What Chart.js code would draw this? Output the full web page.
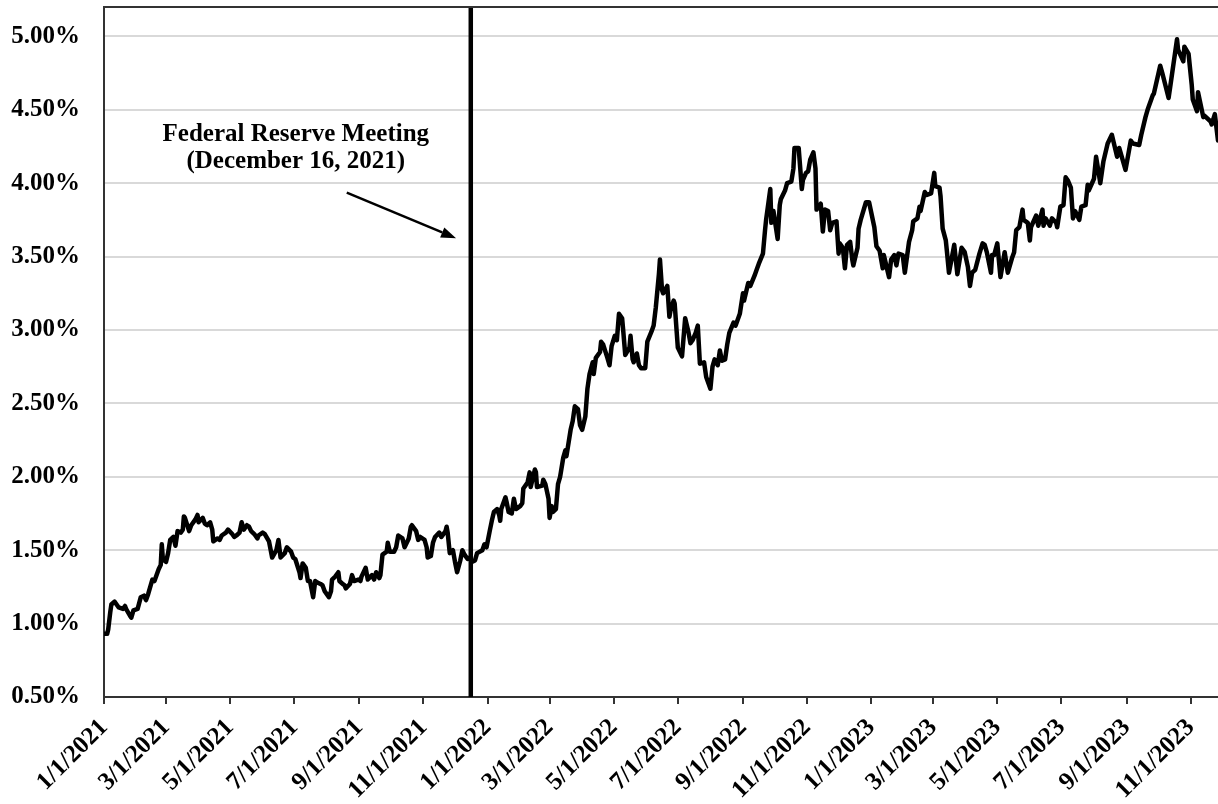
<!DOCTYPE html>
<html>
<head>
<meta charset="utf-8">
<script src="https://cdn.jsdelivr.net/npm/chart.js@4.4.1/dist/chart.umd.min.js"></script>
<style>
  html, body { margin: 0; padding: 0; background: #ffffff; }
  #wrap { width: 1218px; height: 804px; }
</style>
</head>
<body>
<div id="wrap"><canvas id="chart" width="1218" height="804"></canvas></div>
<script>
const X_TICK_LABELS = [
  '1/1/2021', '3/1/2021', '5/1/2021', '7/1/2021', '9/1/2021', '11/1/2021',
  '1/1/2022', '3/1/2022', '5/1/2022', '7/1/2022', '9/1/2022', '11/1/2022',
  '1/1/2023', '3/1/2023', '5/1/2023', '7/1/2023', '9/1/2023', '11/1/2023'
];
const Y_TICKS = [0.5, 1.0, 1.5, 2.0, 2.5, 3.0, 3.5, 4.0, 4.5, 5.0];
const Y_MIN = 0.5;
const Y_MAX = 5.2;
const X_START = '2021-01-01';
const X_END = '2023-11-27';

const MEETING_DATE = '2021-12-16';
const NOTE_LINES = ['Federal Reserve Meeting', '(December 16, 2021)'];

// yields (%), dates as MM-DD per year
const dates2021 = [
  '01-01','01-04','01-05','01-07','01-08','01-11','01-13','01-15','01-19','01-21',
  '01-22','01-26','01-27','01-29','02-02','02-05','02-08','02-10','02-12','02-16',
  '02-18','02-22','02-24','02-25','02-26','03-01','03-03','03-05','03-08','03-10',
  '03-12','03-15','03-17','03-18','03-19','03-23','03-25','03-29','03-31','04-01',
  '04-05','04-07','04-09','04-12','04-14','04-15','04-19','04-21','04-23','04-27',
  '04-29','05-03','05-05','05-07','05-10','05-12','05-14','05-17','05-19','05-21',
  '05-24','05-27','05-28','06-01','06-03','06-07','06-10','06-14','06-16','06-18',
  '06-22','06-24','06-28','06-30','07-02','07-06','07-07','07-09','07-12','07-14',
  '07-16','07-19','07-21','07-23','07-26','07-28','07-30','08-03','08-05','08-06',
  '08-09','08-12','08-13','08-16','08-18','08-19','08-23','08-25','08-27','08-31',
  '09-02','09-03','09-07','09-09','09-13','09-15','09-17','09-20','09-21','09-23',
  '09-27','09-28','09-30','10-04','10-06','10-08','10-12','10-14','10-18','10-20',
  '10-21','10-25','10-27','10-29','11-02','11-04','11-05','11-08','11-10','11-12',
  '11-16','11-18','11-22','11-23','11-24','11-26','11-29','12-01','12-03','12-06',
  '12-08','12-10','12-13','12-15','12-17','12-20','12-22','12-27','12-29','12-31'
];
const yields2021 = [
  0.93,0.93,0.96,1.08,1.13,1.15,1.13,1.11,1.10,1.12,
  1.10,1.05,1.04,1.09,1.10,1.18,1.19,1.16,1.20,1.30,
  1.29,1.37,1.40,1.54,1.44,1.42,1.48,1.57,1.59,1.53,
  1.63,1.62,1.64,1.73,1.72,1.63,1.67,1.71,1.74,1.69,
  1.72,1.68,1.67,1.69,1.64,1.56,1.58,1.57,1.60,1.62,
  1.64,1.61,1.59,1.60,1.62,1.69,1.64,1.67,1.66,1.63,
  1.61,1.58,1.60,1.62,1.61,1.56,1.45,1.50,1.57,1.45,
  1.48,1.52,1.49,1.45,1.44,1.35,1.31,1.41,1.38,1.29,
  1.29,1.18,1.29,1.28,1.27,1.26,1.22,1.18,1.22,1.30,
  1.32,1.35,1.29,1.27,1.26,1.24,1.27,1.33,1.29,1.30,
  1.29,1.32,1.38,1.30,1.33,1.30,1.35,1.31,1.33,1.47,
  1.49,1.55,1.49,1.49,1.52,1.60,1.58,1.52,1.58,1.66,
  1.67,1.63,1.57,1.59,1.57,1.52,1.45,1.46,1.55,1.59,
  1.62,1.59,1.63,1.66,1.62,1.48,1.50,1.42,1.35,1.43,
  1.50,1.47,1.44,1.45,1.42,1.43,1.48,1.50,1.54,1.52
];

const dates2022 = [
  '01-03','01-05','01-07','01-10','01-12','01-13','01-14','01-18','01-19','01-21',
  '01-24','01-26','01-28','02-01','02-03','02-04','02-08','02-10','02-11','02-15',
  '02-16','02-17','02-22','02-23','02-25','02-28','03-01','03-03','03-04','03-07',
  '03-09','03-11','03-14','03-16','03-17','03-21','03-23','03-25','03-28','03-30',
  '04-01','04-04','04-06','04-08','04-11','04-12','04-14','04-18','04-19','04-21',
  '04-25','04-27','04-29','05-02','05-04','05-06','05-09','05-10','05-12','05-16',
  '05-17','05-19','05-20','05-23','05-25','05-27','05-31','06-02','06-06','06-08',
  '06-10','06-13','06-14','06-16','06-17','06-21','06-23','06-24','06-27','06-28',
  '06-30','07-01','07-05','07-08','07-11','07-13','07-15','07-18','07-20','07-21',
  '07-22','07-26','07-28','08-01','08-03','08-05','08-08','08-10','08-12','08-15',
  '08-17','08-19','08-23','08-25','08-29','09-01','09-02','09-06','09-08','09-12',
  '09-14','09-16','09-20','09-22','09-23','09-27','09-28','09-30','10-04','10-06',
  '10-07','10-11','10-13','10-17','10-19','10-20','10-24','10-27','10-28','10-31',
  '11-02','11-04','11-07','11-09','11-10','11-14','11-16','11-18','11-21','11-23',
  '11-25','11-29','12-01','12-02','12-05','12-07','12-09','12-12','12-14','12-15',
  '12-19','12-20','12-22','12-27','12-30'
];
const yields2022 = [
  1.63,1.70,1.76,1.78,1.74,1.70,1.78,1.86,1.83,1.76,
  1.75,1.85,1.78,1.80,1.82,1.92,1.96,2.03,1.93,2.05,
  2.03,1.93,1.94,1.98,1.95,1.85,1.72,1.80,1.76,1.78,
  1.95,2.00,2.13,2.18,2.14,2.32,2.38,2.48,2.46,2.35,
  2.32,2.41,2.60,2.70,2.78,2.70,2.81,2.85,2.92,2.90,
  2.81,2.76,2.89,2.96,2.93,3.11,3.08,3.00,2.83,2.88,
  2.96,2.80,2.78,2.84,2.76,2.74,2.74,2.92,2.99,3.03,
  3.15,3.38,3.48,3.27,3.25,3.30,3.09,3.13,3.20,3.18,
  2.98,2.88,2.82,3.08,2.99,2.91,2.93,2.98,3.03,2.90,
  2.77,2.78,2.68,2.60,2.75,2.80,2.76,2.86,2.79,2.80,
  2.90,2.98,3.05,3.03,3.11,3.25,3.20,3.32,3.30,3.37,
  3.41,3.45,3.52,3.68,3.75,3.96,3.73,3.81,3.62,3.85,
  3.89,3.95,4.00,4.01,4.10,4.24,4.24,3.96,4.02,4.07,
  4.08,4.16,4.21,4.10,3.82,3.86,3.67,3.82,3.81,3.68,
  3.73,3.74,3.52,3.59,3.56,3.42,3.58,3.60,3.48,3.44,
  3.56,3.69,3.75,3.87,3.87
];

const dates2023 = [
  '01-04','01-06','01-09','01-12','01-13','01-18','01-20','01-23','01-25','01-27',
  '01-31','02-02','02-06','02-09','02-10','02-14','02-16','02-17','02-21','02-23',
  '02-27','03-02','03-03','03-07','03-08','03-10','03-13','03-14','03-16','03-20',
  '03-21','03-24','03-28','03-31','04-03','04-05','04-07','04-10','04-14','04-17',
  '04-19','04-21','04-25','04-26','04-28','05-01','05-04','05-08','05-11','05-15',
  '05-17','05-19','05-22','05-25','05-26','05-30','06-01','06-02','06-07','06-09',
  '06-13','06-14','06-16','06-20','06-22','06-26','06-27','06-30','07-03','07-05',
  '07-07','07-10','07-12','07-14','07-18','07-20','07-24','07-26','07-27','08-01',
  '08-03','08-07','08-10','08-14','08-18','08-23','08-25','08-31','09-05','09-07',
  '09-13','09-15','09-19','09-21','09-26','09-27','10-03','10-05','10-11','10-13',
  '10-19','10-20','10-25','10-26','10-30','11-02','11-03','11-07','11-08','11-13',
  '11-14','11-20','11-21','11-24','11-27'
];
const yields2023 = [
  3.70,3.57,3.54,3.42,3.51,3.36,3.48,3.51,3.44,3.52,
  3.51,3.39,3.60,3.68,3.74,3.76,3.84,3.81,3.94,3.92,
  3.93,4.07,3.98,3.97,3.91,3.69,3.61,3.54,3.39,3.54,
  3.58,3.38,3.56,3.53,3.43,3.30,3.39,3.41,3.52,3.59,
  3.58,3.53,3.39,3.51,3.51,3.59,3.36,3.53,3.39,3.49,
  3.53,3.68,3.70,3.82,3.75,3.73,3.61,3.70,3.78,3.71,
  3.82,3.71,3.76,3.71,3.76,3.73,3.70,3.84,3.85,4.04,
  4.02,3.97,3.76,3.81,3.75,3.84,3.85,3.99,3.95,4.03,
  4.18,4.00,4.15,4.27,4.33,4.18,4.24,4.09,4.29,4.27,
  4.26,4.33,4.45,4.50,4.60,4.61,4.80,4.75,4.58,4.68,
  4.98,4.91,4.83,4.93,4.88,4.67,4.57,4.49,4.62,4.45,
  4.46,4.42,4.40,4.47,4.29
];

// where the note and its arrow sit, in data units (day since start, %)
const NOTE_DAY = 182.5;
const NOTE_VALUES = [4.29, 4.10];
const ARROW_FROM = { day: 231, value: 3.935 };
const ARROW_TO = { day: 335, value: 3.625 };

const FONT_FAMILY = '"Liberation Serif", "Times New Roman", serif';

function dayOf(iso) {
  const [y, m, d] = iso.split('-').map(Number);
  const [y0, m0, d0] = X_START.split('-').map(Number);
  return (Date.UTC(y, m - 1, d) - Date.UTC(y0, m0 - 1, d0)) / 86400000;
}

function dayOfLabel(label) {
  const [m, d, y] = label.split('/').map(Number);
  return dayOf(`${y}-${String(m).padStart(2, '0')}-${String(d).padStart(2, '0')}`);
}

function buildSeries(year, dates, values) {
  if (dates.length !== values.length) console.error('length mismatch', year, dates.length, values.length);
  return dates.map((md, i) => ({ x: dayOf(`${year}-${md}`), y: values[i] }));
}

const series = [
  ...buildSeries(2021, dates2021, yields2021),
  ...buildSeries(2022, dates2022, yields2022),
  ...buildSeries(2023, dates2023, yields2023)
];
const meetingDay = dayOf(MEETING_DATE);

const notePlugin = {
  id: 'fedNote',
  afterDatasetsDraw(chart) {
    const { ctx, chartArea, scales: { x, y } } = chart;
    ctx.save();

    // top frame line of the plot box
    ctx.strokeStyle = '#333333';
    ctx.lineWidth = 2;
    ctx.beginPath();
    ctx.moveTo(chartArea.left, chartArea.top);
    ctx.lineTo(chartArea.right, chartArea.top);
    ctx.stroke();

    // note text
    ctx.fillStyle = '#000000';
    ctx.font = `bold 25px ${FONT_FAMILY}`;
    ctx.textAlign = 'center';
    ctx.textBaseline = 'alphabetic';
    NOTE_LINES.forEach((line, i) => {
      ctx.fillText(line, x.getPixelForValue(NOTE_DAY), y.getPixelForValue(NOTE_VALUES[i]));
    });

    // arrow
    const x1 = x.getPixelForValue(ARROW_FROM.day);
    const y1 = y.getPixelForValue(ARROW_FROM.value);
    const x2 = x.getPixelForValue(ARROW_TO.day);
    const y2 = y.getPixelForValue(ARROW_TO.value);
    const ang = Math.atan2(y2 - y1, x2 - x1);
    const headLen = 15;
    const headHalf = 5.5;
    const bx = x2 - headLen * Math.cos(ang);
    const by = y2 - headLen * Math.sin(ang);
    ctx.strokeStyle = '#000000';
    ctx.lineWidth = 2.5;
    ctx.beginPath();
    ctx.moveTo(x1, y1);
    ctx.lineTo(bx, by);
    ctx.stroke();
    ctx.beginPath();
    ctx.moveTo(x2, y2);
    ctx.lineTo(bx + headHalf * Math.sin(ang), by - headHalf * Math.cos(ang));
    ctx.lineTo(bx - headHalf * Math.sin(ang), by + headHalf * Math.cos(ang));
    ctx.closePath();
    ctx.fill();

    ctx.restore();
  }
};

new Chart(document.getElementById('chart'), {
  type: 'line',
  data: {
    datasets: [
      {
        label: 'Yield',
        data: series,
        borderColor: '#000000',
        borderWidth: 4.5,
        borderJoinStyle: 'round',
        borderCapStyle: 'round',
        pointRadius: 0,
        tension: 0,
        fill: false
      },
      {
        label: 'Federal Reserve Meeting',
        data: [{ x: meetingDay, y: Y_MIN }, { x: meetingDay, y: Y_MAX }],
        borderColor: '#000000',
        borderWidth: 4.5,
        pointRadius: 0,
        fill: false
      }
    ]
  },
  options: {
    responsive: false,
    animation: false,
    devicePixelRatio: 1,
    layout: { padding: { top: 7, right: 0, bottom: 0, left: 0 } },
    plugins: {
      legend: { display: false },
      tooltip: { enabled: false }
    },
    scales: {
      x: {
        type: 'linear',
        min: 0,
        max: dayOf(X_END),
        afterBuildTicks(scale) {
          scale.ticks = X_TICK_LABELS.map(label => ({ value: dayOfLabel(label) }));
        },
        afterFit(scale) {
          scale.height = 107;
          scale.paddingLeft = 0;
          scale.paddingRight = 0;
        },
        ticks: {
          autoSkip: false,
          minRotation: 45,
          maxRotation: 45,
          padding: 9,
          color: '#000000',
          font: { family: FONT_FAMILY, size: 25, weight: 'bold' },
          callback: (value, index) => X_TICK_LABELS[index]
        },
        grid: {
          drawOnChartArea: false,
          drawTicks: true,
          tickLength: 7,
          color: '#333333',
          lineWidth: 2
        },
        border: { display: true, color: '#333333', width: 2 }
      },
      y: {
        min: Y_MIN,
        max: Y_MAX,
        afterBuildTicks(scale) {
          scale.ticks = Y_TICKS.map(v => ({ value: v }));
        },
        afterFit(scale) {
          scale.width = 104;
          scale.paddingTop = 0;
          scale.paddingBottom = 0;
        },
        ticks: {
          padding: 24,
          color: '#000000',
          font: { family: FONT_FAMILY, size: 25, weight: 'bold' },
          callback: value => value.toFixed(2) + '%'
        },
        grid: {
          color: '#d9d9d9',
          lineWidth: 2,
          drawTicks: false
        },
        border: { display: true, color: '#333333', width: 2 }
      }
    }
  },
  plugins: [notePlugin]
});
</script>
</body>
</html>
